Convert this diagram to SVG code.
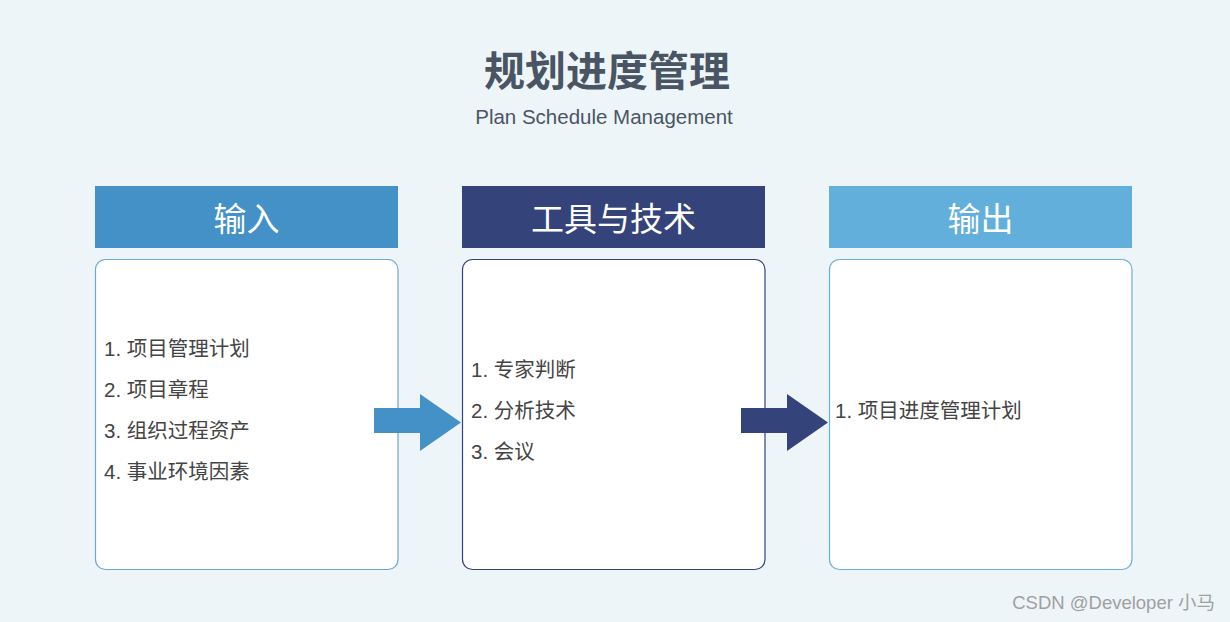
<svg xmlns="http://www.w3.org/2000/svg" width="1230" height="622" viewBox="0 0 1230 622">
<style>
.title{font-family:"Liberation Sans","Noto Sans CJK SC",sans-serif;font-weight:bold;font-size:41px;fill:#4A5563;text-anchor:middle}
.sub{font-family:"Liberation Sans","Noto Sans CJK SC",sans-serif;font-size:20.5px;fill:#4A5563;text-anchor:middle}
.hd{font-family:"Liberation Sans","Noto Sans CJK SC",sans-serif;font-size:33px;fill:#fff;text-anchor:middle;dominant-baseline:central}
.it{font-family:"Liberation Sans","Noto Sans CJK SC",sans-serif;font-size:20.5px;fill:#444;dominant-baseline:central}
.box{fill:#fff;stroke-width:1.2}
.wm{font-family:"Liberation Sans","Noto Sans CJK SC",sans-serif;font-size:18.5px;fill:#A0A0A0;text-anchor:end}
</style>
<rect width="1230" height="622" fill="#EEF5F9"/>
<text class="title" x="607" y="86">规划进度管理</text>
<text class="sub" x="604" y="124">Plan Schedule Management</text>
<g id="input">
<rect x="95" y="186" width="303" height="62" fill="#4391C7"/>
<text class="hd" x="246.5" y="219">输入</text>
<rect class="box" x="95.5" y="259.5" width="302.5" height="310" rx="10" stroke="#6AA8D6"/>
<text class="it" x="104" y="348">1. 项目管理计划</text>
<text class="it" x="104" y="389">2. 项目章程</text>
<text class="it" x="104" y="430">3. 组织过程资产</text>
<text class="it" x="104" y="471">4. 事业环境因素</text>
</g>
<g id="tools">
<rect x="462" y="186" width="303" height="62" fill="#34437A"/>
<text class="hd" x="613.5" y="219">工具与技术</text>
<rect class="box" x="462.5" y="259.5" width="302.5" height="310" rx="10" stroke="#34437A"/>
<text class="it" x="471" y="369">1. 专家判断</text>
<text class="it" x="471" y="410">2. 分析技术</text>
<text class="it" x="471" y="451">3. 会议</text>
</g>
<g id="output">
<rect x="829" y="186" width="303" height="62" fill="#63AFDC"/>
<text class="hd" x="980.5" y="219">输出</text>
<rect class="box" x="829.5" y="259.5" width="302.5" height="310" rx="10" stroke="#6AB0DE"/>
<text class="it" x="835" y="410">1. 项目进度管理计划</text>
</g>
<g id="connectors">
<polygon points="374,408 420,408 420,394 461,422.5 420,451 420,433 374,433" fill="#4391C7"/>
<polygon points="741,408 787,408 787,394 828,422.5 787,451 787,433 741,433" fill="#34437A"/>
</g>
<text class="wm" x="1215" y="609">CSDN @Developer 小马</text>
</svg>
